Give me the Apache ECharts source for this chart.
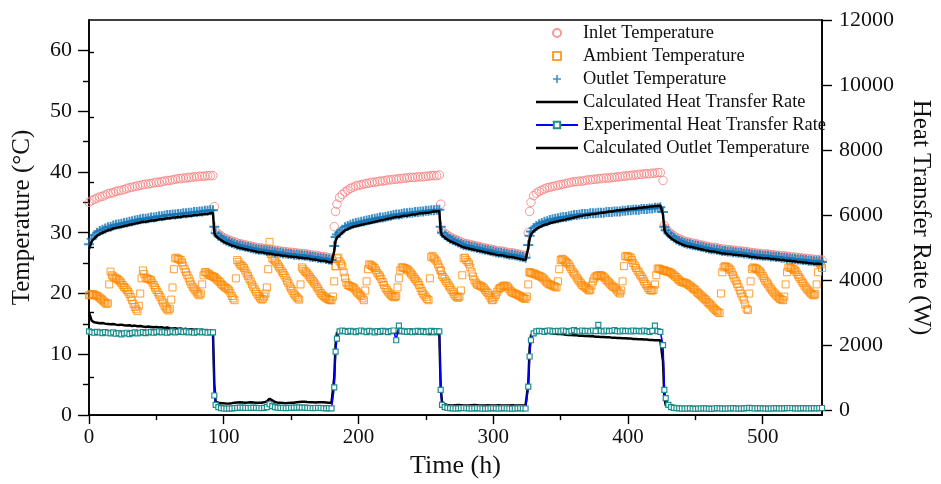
<!DOCTYPE html>
<html><head><meta charset="utf-8">
<script src="https://cdn.jsdelivr.net/npm/echarts@6/dist/echarts.min.js"></script>
<style>html,body{margin:0;padding:0;background:#fff}#c{width:941px;height:484px}</style>
</head><body><div id="c"></div>
<script>
// Time grid (h)
const hours = [
 0,2,4,6,8,10,12,14,16,18,20,22,24,26,28,30,32,34,36,38,40,42,44,46,48,50,52,54,56,58,60,62,64,66,68,70,72,74,76,78,80,82,84,86,88,90,92,
 93,
 94,96,98,100,102,104,106,108,110,112,114,116,118,120,122,124,126,128,130,132,134,136,138,140,142,144,146,148,150,152,154,156,158,160,162,164,166,168,170,172,174,176,178,180,182,
 183,
 184,186,188,190,192,194,196,198,200,202,204,206,208,210,212,214,216,218,220,222,224,226,228,230,232,234,236,238,240,242,244,246,248,250,252,254,256,258,260,
 261,
 262,264,266,268,270,272,274,276,278,280,282,284,286,288,290,292,294,296,298,300,302,304,306,308,310,312,314,316,318,320,322,324,326,
 327,
 328,330,332,334,336,338,340,342,344,346,348,350,352,354,356,358,360,362,364,366,368,370,372,374,376,378,380,382,384,386,388,390,392,394,396,398,400,402,404,406,408,410,412,414,416,418,420,422,424,426,
 427,
 428,430,432,434,436,438,440,442,444,446,448,450,452,454,456,458,460,462,464,466,468,470,472,474,476,478,480,482,484,486,488,490,492,494,496,498,500,502,504,506,508,510,512,514,516,518,520,522,524,526,528,530,532,534,536,538,540,542,544
];
// Extra (odd-hour) readings of the ambient temperature
const oddHours = [
 1,3,5,7,9,11,13,15,17,19,21,23,25,27,29,31,33,35,37,39,41,43,45,47,49,51,53,55,57,59,61,63,65,67,69,71,73,75,77,79,81,83,85,87,89,91,93,95,97,99,
 101,103,105,107,109,111,113,115,117,119,121,123,125,127,129,131,133,135,137,139,141,143,145,147,149,151,153,155,157,159,161,163,165,167,169,171,173,175,177,179,181,183,185,187,189,191,193,195,197,199,
 201,203,205,207,209,211,213,215,217,219,221,223,225,227,229,231,233,235,237,239,241,243,245,247,249,251,253,255,257,259,261,263,265,267,269,271,273,275,277,279,281,283,285,287,289,291,293,295,297,299,
 301,303,305,307,309,311,313,315,317,319,321,323,325,327,329,331,333,335,337,339,341,343,345,347,349,351,353,355,357,359,361,363,365,367,369,371,373,375,377,379,381,383,385,387,389,391,393,395,397,399,
 401,403,405,407,409,411,413,415,417,419,421,423,425,427,429,431,433,435,437,439,441,443,445,447,449,451,453,455,457,459,461,463,465,467,469,471,473,475,477,479,481,483,485,487,489,491,493,495,497,499,
 501,503,505,507,509,511,513,515,517,519,521,523,525,527,529,531,533,535,537,539,541,543
];

const inletTemp = [
 35.0,35.3,35.5,35.7,35.9,36.0,36.2,36.4,36.5,36.6, 36.8,36.9,37.0,37.1,37.3,37.4,37.5,37.6,37.7,37.8, 37.9,38.0,38.0,38.1,38.2,38.3,38.3,38.4,38.5,38.6, 38.6,38.7,38.8,38.9,38.9,39.0,39.0,39.1,39.1,39.2, 39.2,39.3,39.3,39.3,39.4,39.4,39.4,
 34.3,
 30.2,29.8,29.5,29.2,29.0,28.8,28.6,28.5,28.3,28.2, 28.1,28.0,27.9,27.8,27.7,27.6,27.5,27.5,27.4,27.3, 27.3,27.2,27.1,27.1,27.0,26.9,26.9,26.8,26.8,26.7, 26.7,26.6,26.6,26.5,26.5,26.4,26.3,26.3,26.2,26.1, 26.1,26.0,25.9,25.8,31.0,
 33.5,
 34.7,35.8,36.3,36.7,37.0,37.3,37.5,37.7,37.8,37.9, 38.0,38.1,38.2,38.3,38.3,38.4,38.5,38.5,38.6,38.7, 38.7,38.8,38.8,38.9,38.9,39.0,39.0,39.1,39.1,39.1, 39.2,39.2,39.2,39.3,39.3,39.4,39.4,39.4,39.5,
 34.7,
 30.3,29.9,29.6,29.3,29.1,28.9,28.7,28.5,28.3,28.2, 28.1,28.0,27.9,27.8,27.7,27.6,27.5,27.4,27.3,27.2, 27.1,27.0,27.0,26.9,26.8,26.7,26.7,26.6,26.5,26.4, 26.3,26.2,30.0,
 33.5,
 35.0,36.1,36.5,36.8,37.0,37.2,37.4,37.5,37.6,37.7, 37.8,37.9,38.0,38.1,38.2,38.3,38.4,38.4,38.5,38.5, 38.6,38.7,38.7,38.8,38.8,38.9,38.9,39.0,39.0,39.0, 39.1,39.1,39.2,39.2,39.3,39.3,39.4,39.4,39.5,39.5, 39.6,39.6,39.7,39.7,39.7,39.8,39.8,39.9,39.9,38.6,
 31.2,
 30.7,30.2,29.8,29.5,29.2,29.0,28.8,28.6,28.5,28.4, 28.3,28.2,28.1,28.0,27.9,27.8,27.7,27.6,27.6,27.5, 27.4,27.3,27.3,27.2,27.2,27.1,27.1,27.0,27.0,26.9, 26.9,26.8,26.7,26.7,26.6,26.6,26.5,26.5,26.5,26.4, 26.4,26.3,26.3,26.2,26.2,26.1,26.1,26.0,26.0,25.9, 25.9,25.8,25.8,25.7,25.7,25.6,25.6,25.6,25.5
];

const ambientTemp = [
 19.7,19.9,19.8,19.6,19.3,18.9,18.5,18.4,23.6,22.8, 22.5,22.2,21.7,21.1,20.6,19.9,18.9,17.8,17.1,20.0, 23.8,22.6,22.4,22.2,21.4,20.6,19.8,18.9,18.0,17.4, 17.5,21.0,25.8,25.7,25.5,24.6,23.5,22.5,21.5,20.8, 20.2,19.7,21.5,23.5,23.3,23.0,22.8,
 22.7,
 22.5,22.1,21.6,21.2,20.9,20.5,19.6,18.9,25.5,24.8, 24.5,23.8,22.9,22.0,21.1,20.3,19.6,19.0,19.5,21.0, 28.5,25.8,25.4,24.8,24.1,23.4,22.6,21.7,20.8,20.0, 19.4,19.0,24.3,23.7,23.3,22.7,22.1,21.5,20.8,20.1, 19.6,19.3,19.0,18.9,22.0,
 24.5,
 25.8,25.3,24.5,22.6,21.4,21.2,21.0,20.5,20.0,19.6, 18.9,22.0,24.8,24.5,24.2,23.4,22.8,21.9,20.9,20.3, 19.8,19.4,19.6,22.5,24.3,24.2,24.0,23.6,23.0,22.4, 21.8,20.9,20.0,19.4,18.9,26.0,25.8,25.3,24.3,
 23.8,
 23.0,22.4,21.7,21.0,20.3,19.6,19.3,20.5,25.8,25.5, 24.9,23.5,22.2,21.5,21.3,21.1,20.6,20.1,19.3,19.0, 19.8,20.7,21.0,21.3,21.2,20.7,20.2,20.0,19.8,19.6, 19.3,19.1,21.5,
 23.5,
 23.4,23.3,23.1,22.9,22.7,22.3,21.8,21.5,21.3,21.1, 22.0,25.5,25.6,25.2,24.8,24.0,23.3,22.6,22.0,21.4, 21.1,20.7,20.6,22.0,22.8,23.0,23.0,22.7,22.2,21.8, 21.3,21.0,20.5,20.0,22.0,26.1,26.1,25.9,25.0,24.2, 23.5,22.8,22.0,21.3,20.6,20.5,21.5,24.1,24.0,23.8,
 23.8,
 23.7,23.6,23.4,23.0,22.7,22.2,21.9,21.8,21.6,21.3, 20.9,20.6,20.1,19.7,19.3,18.9,18.4,18.0,17.5,17.1, 16.8,23.5,24.5,24.3,23.9,23.0,22.1,21.1,20.0,19.0, 17.5,20.0,24.0,24.2,24.0,23.6,22.9,22.1,21.5,20.8, 20.2,19.7,19.3,19.0,19.5,23.5,24.3,24.1,23.8,23.1, 22.4,21.7,21.0,20.5,20.0,19.7,21.5,25.0,24.2
];
const ambientTempOdd = [
 19.8,19.9,19.7,19.5,19.1,18.7,18.3,21.5,23.0,22.6, 22.4,22.0,21.4,20.9,20.3,19.4,18.3,17.4,18.0,22.5,
 23.2,22.5,22.3,21.8,21.0,20.2,19.4,18.5,17.7,17.2, 19.0,24.0,25.9,25.6,25.1,24.0,23.0,22.0,21.1,20.5,
 19.9,20.0,23.0,23.5,23.2,22.9,22.7,22.3,21.9,21.4, 21.0,20.7,20.1,19.2,22.5,25.2,24.6,24.2,23.3,22.4,
 21.5,20.7,19.9,19.3,19.1,20.0,24.0,26.5,25.6,25.1, 24.4,23.7,23.0,22.1,21.2,20.4,19.7,19.2,21.5,24.0,
 23.5,23.0,22.4,21.8,21.1,20.4,19.8,19.4,19.1,18.9, 19.5,24.5,25.9,24.9,23.5,21.8,21.3,21.1,20.8,20.2,
 19.8,19.2,20.5,24.0,24.7,24.4,23.8,23.1,22.4,21.4, 20.6,20.0,19.6,19.4,21.0,23.8,24.3,24.1,23.8,23.3,
 22.7,22.1,21.4,20.4,19.7,19.1,22.5,26.2,25.6,24.8, 23.8,22.7,22.0,21.3,20.6,19.9,19.4,19.5,23.0,25.9,
 25.2,24.3,22.8,21.8,21.4,21.2,20.9,20.3,19.7,18.9, 19.4,20.3,20.9,21.2,21.3,21.0,20.4,20.1,19.9,19.7,
 19.4,19.2,19.5,23.5,23.3,23.2,23.0,22.8,22.5,22.0, 21.6,21.4,21.2,21.0,24.0,25.7,25.4,25.0,24.4,23.6,
 23.0,22.3,21.7,21.2,20.9,20.5,21.3,22.5,22.9,23.0, 22.9,22.5,22.0,21.5,21.1,20.8,20.2,20.5,24.5,26.2,
 26.0,25.5,24.6,23.8,23.1,22.4,21.6,20.9,20.5,20.6, 23.0,24.1,23.9,23.8,23.6,23.5,23.2,22.8,22.4,22.0,
 21.8,21.7,21.4,21.1,20.7,20.3,19.9,19.5,19.1,18.6, 18.2,17.7,17.3,16.9,20.0,24.3,24.4,24.1,23.5,22.5,
 21.6,20.5,19.5,18.2,17.3,22.0,24.3,24.1,23.8,23.3, 22.5,21.8,21.1,20.5,20.0,19.5,19.1,18.9,21.5,24.3,
 24.2,24.0,23.5,22.7,22.0,21.3,20.7,20.2,19.8,19.9, 23.5,24.8
];

const outletTemp = [
 28.1,29.0,29.6,30.0,30.3,30.5,30.7,30.9,31.0,31.2, 31.3,31.4,31.5,31.6,31.7,31.8,31.9,32.0,32.1,32.2, 32.3,32.3,32.4,32.5,32.5,32.6,32.7,32.7,32.8,32.9, 32.9,33.0,33.0,33.1,33.1,33.2,33.2,33.3,33.3,33.4, 33.4,33.5,33.5,33.6,33.6,33.7,33.7,
 31.0,
 29.9,29.5,29.2,28.9,28.7,28.5,28.3,28.2,28.0,27.9, 27.8,27.7,27.6,27.5,27.4,27.3,27.2,27.2,27.1,27.0, 27.0,26.9,26.8,26.8,26.7,26.6,26.6,26.5,26.5,26.4, 26.4,26.3,26.3,26.2,26.2,26.1,26.0,26.0,25.9,25.8, 25.8,25.7,25.6,25.5,27.8,
 29.3,
 29.7,30.1,30.5,30.9,31.1,31.3,31.5,31.6,31.7,31.8, 31.9,32.0,32.1,32.2,32.3,32.4,32.5,32.5,32.6,32.7, 32.8,32.9,33.0,33.0,33.1,33.2,33.2,33.3,33.3,33.4, 33.4,33.5,33.5,33.6,33.6,33.7,33.7,33.8,33.8,
 31.0,
 30.0,29.6,29.3,29.0,28.8,28.6,28.4,28.2,28.0,27.9, 27.8,27.7,27.6,27.5,27.4,27.3,27.2,27.1,27.0,26.9, 26.8,26.7,26.7,26.6,26.5,26.4,26.4,26.3,26.2,26.1, 26.0,25.9,28.0,
 29.5,
 30.2,30.8,31.1,31.4,31.6,31.8,31.9,32.1,32.2,32.3, 32.4,32.5,32.6,32.6,32.7,32.8,32.9,32.9,33.0,33.1, 33.1,33.1,33.2,33.2,33.2,33.3,33.3,33.3,33.4,33.4, 33.4,33.5,33.5,33.5,33.6,33.6,33.7,33.7,33.8,33.8, 33.8,33.9,33.9,33.9,34.0,34.0,34.1,34.1,34.2,33.4,
 31.0,
 30.4,29.9,29.5,29.2,28.9,28.7,28.5,28.3,28.2,28.1, 28.0,27.9,27.8,27.7,27.6,27.5,27.4,27.3,27.3,27.2, 27.1,27.0,27.0,26.9,26.9,26.8,26.8,26.7,26.7,26.6, 26.6,26.5,26.4,26.4,26.3,26.3,26.2,26.2,26.2,26.1, 26.1,26.0,26.0,25.9,25.9,25.8,25.8,25.7,25.7,25.6, 25.6,25.5,25.5,25.4,25.4,25.3,25.3,25.3,25.2
];

const calcHeatRate = [
 3000,2750,2700,2690,2670,2680,2660,2650,2640,2650, 2630,2620,2630,2610,2600,2610,2590,2600,2580,2590, 2570,2560,2570,2560,2550,2560,2540,2550,2530,2540, 2520,2510,2520,2500,2510,2490,2500,2480,2490,2470, 2480,2460,2470,2450,2460,2440,2430,
 800,
 260,230,215,210,200,205,215,230,235,240, 235,230,235,240,235,230,225,230,240,270, 350,300,250,230,225,220,215,220,225,230, 240,250,255,260,250,245,240,235,240,245, 240,235,230,230,1000,
 2000,
 2380,2400,2420,2410,2400,2410,2420,2400,2410,2420, 2400,2410,2390,2400,2410,2400,2390,2400,2390,2380, 2390,2380,2370,2380,2370,2380,2360,2370,2360,2370, 2350,2360,2350,2360,2340,2350,2340,2350,2340,
 700,
 250,180,160,150,145,150,155,150,145,140, 145,150,155,150,145,140,145,150,145,140, 145,150,145,140,145,140,150,145,140,145, 140,145,800,
 1900,
 2300,2400,2410,2400,2400,2390,2380,2370,2360,2350, 2340,2340,2330,2320,2310,2310,2300,2300,2290,2290, 2280,2280,2270,2270,2260,2260,2250,2250,2240,2240, 2230,2230,2220,2220,2210,2210,2200,2200,2190,2190, 2180,2180,2170,2170,2160,2160,2150,2150,2150,1500,
 400,
 150,100,85,80,75,70,70,75,70,65, 70,75,70,65,70,75,80,75,70,70, 65,70,75,70,65,70,75,70,65,70, 75,80,75,70,65,70,75,70,70,65, 70,75,70,65,70,75,80,75,70,65, 70,75,70,65,70,75,70,65,70
];

const expHeatRate = [
 2420,2400,2380,2410,2390,2370,2400,2380,2360,2390, 2350,2370,2330,2360,2380,2340,2370,2390,2360,2380, 2400,2370,2390,2410,2380,2400,2420,2390,2410,2380, 2400,2420,2390,2410,2430,2400,2420,2390,2410,2380, 2400,2420,2390,2410,2380,2400,2390,
 450,
 160,90,60,50,45,50,55,60,70,80, 75,70,65,70,75,70,65,60,70,90, 180,120,90,80,70,65,60,65,70,75, 80,85,80,75,70,65,60,65,70,65, 60,55,60,55,700,
 1800,
 2200,2420,2450,2430,2410,2440,2420,2400,2430,2450, 2420,2400,2440,2420,2390,2430,2410,2440,2420,2400, 2430,2450,2150,2600,2440,2420,2410,2430,2400,2420, 2440,2410,2430,2400,2420,2440,2410,2430,2420,
 620,
 160,90,70,60,55,50,55,60,65,60, 55,50,55,60,55,50,45,50,55,60, 55,50,55,60,55,50,45,50,55,60, 55,50,720,
 1650,
 2150,2360,2420,2440,2430,2410,2440,2450,2420,2430, 2440,2420,2450,2430,2410,2440,2460,2430,2420,2450, 2430,2440,2420,2450,2430,2620,2440,2420,2450,2430, 2440,2460,2430,2420,2450,2430,2440,2420,2450,2430, 2440,2420,2450,2430,2410,2440,2600,2430,2410,2000,
 620,
 370,160,90,70,60,55,50,45,50,55, 45,40,45,50,55,50,45,40,50,60, 55,50,45,50,55,60,50,45,50,55, 60,70,60,50,55,60,55,50,45,50, 55,60,55,50,55,60,65,60,55,50, 55,60,55,50,55,60,55,60,65
];

const calcOutletTemp = [
 27.3,28.6,29.1,29.5,29.8,30.0,30.2,30.4,30.5,30.7, 30.8,30.9,31.0,31.1,31.2,31.3,31.4,31.5,31.6,31.7, 31.8,31.8,31.9,32.0,32.0,32.1,32.2,32.2,32.3,32.4, 32.4,32.5,32.5,32.6,32.6,32.7,32.7,32.8,32.8,32.9, 32.9,33.0,33.0,33.1,33.1,33.2,33.3,
 30.0,
 29.5,29.1,28.8,28.5,28.3,28.1,27.9,27.8,27.6,27.5, 27.4,27.3,27.2,27.1,27.0,26.9,26.8,26.8,26.7,26.6, 26.6,26.5,26.4,26.4,26.3,26.2,26.2,26.1,26.1,26.0, 26.0,25.9,25.9,25.8,25.8,25.7,25.6,25.6,25.5,25.4, 25.4,25.3,25.2,25.1,27.0,
 28.6,
 29.2,29.6,30.0,30.4,30.6,30.8,31.0,31.1,31.2,31.3, 31.4,31.5,31.6,31.7,31.8,31.9,32.0,32.1,32.2,32.3, 32.4,32.5,32.6,32.6,32.7,32.8,32.8,32.9,33.0,33.0, 33.1,33.2,33.2,33.3,33.3,33.4,33.5,33.5,33.6,
 30.2,
 29.6,29.2,28.9,28.6,28.4,28.2,28.0,27.8,27.6,27.5, 27.4,27.3,27.2,27.1,27.0,26.9,26.8,26.7,26.6,26.5, 26.4,26.3,26.3,26.2,26.1,26.0,26.0,25.9,25.8,25.7, 25.6,25.5,27.5,
 29.0,
 29.7,30.3,30.6,30.9,31.1,31.3,31.4,31.6,31.7,31.8, 31.9,32.0,32.1,32.2,32.3,32.4,32.5,32.6,32.7,32.8, 32.9,32.9,33.0,33.1,33.1,33.2,33.3,33.3,33.4,33.5, 33.5,33.6,33.7,33.7,33.8,33.8,33.9,33.9,34.0,34.0, 34.1,34.1,34.2,34.2,34.3,34.3,34.4,34.4,34.5,33.0,
 30.5,
 30.0,29.5,29.1,28.8,28.5,28.3,28.1,27.9,27.8,27.7, 27.6,27.5,27.4,27.3,27.2,27.1,27.0,26.9,26.9,26.8, 26.7,26.6,26.6,26.5,26.5,26.4,26.4,26.3,26.3,26.2, 26.2,26.1,26.0,26.0,25.9,25.9,25.8,25.8,25.8,25.7, 25.7,25.6,25.6,25.5,25.5,25.4,25.4,25.3,25.3,25.2, 25.2,25.1,25.1,25.0,25.0,24.9,24.9,24.9,24.8
];

// Axis tick labels
const xTicks = [0,100,200,300,400,500];
const xMinorTicks = [50,150,250,350,450];
const tempTicks = [0,10,20,30,40,50,60];
const tempMinorTicks = [5,15,25,35,45,55];
const heatTicks = [0,2000,4000,6000,8000,10000,12000];
const heatMinorTicks = [1000,3000,5000,7000,9000,11000];

const names = ['Inlet Temperature','Ambient Temperature','Outlet Temperature','Calculated Heat Transfer Rate','Experimental Heat Transfer Rate','Calculated Outlet Temperature'];

const allSeries = [inletTemp, ambientTemp, outletTemp, calcHeatRate, expHeatRate, calcOutletTemp];
allSeries.forEach((a,i)=>{ if (a.length !== hours.length) throw new Error(names[i]+' length '+a.length+' vs '+hours.length); });
if (ambientTempOdd.length !== oddHours.length) throw new Error('odd ambient length ' + ambientTempOdd.length + ' vs ' + oddHours.length);
const pairs = a => hours.map((h,i)=>[h,a[i]]);
const ambientPairs = pairs(ambientTemp).concat(oddHours.map((h,i)=>[h, ambientTempOdd[i]]));

const FONT = 'Liberation Serif';
const INK = '#111';
const plus = 'path://M4,0h2v4h4v2h-4v4h-2v-4h-4v-2h4z';

const chart = echarts.init(document.getElementById('c'), null, {renderer:'canvas'});
chart.setOption({
  animation: false,
  backgroundColor: '#fff',
  grid: {left: 89, right: 109, top: 20, bottom: 67, show: true, borderColor: '#000', borderWidth: 1.6, backgroundColor: 'transparent'},
  legend: {
    orient: 'vertical', left: 530, top: 19, itemWidth: 42, itemHeight: 8, itemGap: 5,
    textStyle: {fontFamily: FONT, fontSize: 18.4, color: INK},
    data: [
      {name: names[0]},
      {name: names[1], icon: 'path://M0,0H10V10H0Z'},
      {name: names[2]},
      {name: names[3], icon: 'path://M0,0H40V2.4H0Z'},
      {name: names[4]},
      {name: names[5], icon: 'path://M0,0H40V2.4H0Z'}
    ]
  },
  xAxis: [
    {type: 'value', min: 0, max: 544, position: 'bottom',
     name: 'Time (h)', nameLocation: 'middle', nameGap: 36,
     nameTextStyle: {fontFamily: FONT, fontSize: 26, color: INK},
     axisLine: {onZero: false, lineStyle: {color: '#000', width: 1.6}},
     axisTick: {customValues: xTicks, length: 9, lineStyle: {color: '#000', width: 1.4}},
     axisLabel: {customValues: xTicks, margin: 12, fontFamily: FONT, fontSize: 21, color: INK},
     splitLine: {show: false}},
    {type: 'value', min: 0, max: 544, position: 'bottom',
     axisLine: {show: false},
     axisTick: {customValues: xMinorTicks, length: 5, lineStyle: {color: '#000', width: 1.4}},
     axisLabel: {show: false}, splitLine: {show: false}}
  ],
  yAxis: [
    {type: 'value', min: 0, max: 65, position: 'left',
     name: 'Temperature (°C)', nameLocation: 'middle', nameGap: 54, nameRotate: 90,
     nameTextStyle: {fontFamily: FONT, fontSize: 25, color: INK},
     axisLine: {show: true, onZero: false, lineStyle: {color: '#000', width: 1.6}},
     axisTick: {customValues: tempTicks, length: 11, lineStyle: {color: '#000', width: 1.4}},
     axisLabel: {customValues: tempTicks, margin: 17, fontFamily: FONT, fontSize: 22, color: INK},
     splitLine: {show: false}},
    {type: 'value', min: -153, max: 12000, position: 'right',
     name: 'Heat Transfer Rate (W)', nameLocation: 'middle', nameGap: 86, nameRotate: -90,
     nameTextStyle: {fontFamily: FONT, fontSize: 25, color: INK},
     axisLine: {show: true, onZero: false, lineStyle: {color: '#000', width: 1.6}},
     axisTick: {customValues: heatTicks, length: 10, lineStyle: {color: '#000', width: 1.4}},
     axisLabel: {customValues: heatTicks, margin: 17, fontFamily: FONT, fontSize: 22, color: INK,
                 formatter: v => String(v)},
     splitLine: {show: false}},
    {type: 'value', min: 0, max: 65, position: 'left',
     axisLine: {show: false},
     axisTick: {customValues: tempMinorTicks, length: 6, lineStyle: {color: '#000', width: 1.4}},
     axisLabel: {show: false}, splitLine: {show: false}},
    {type: 'value', min: -153, max: 12000, position: 'right',
     axisLine: {show: false},
     axisTick: {customValues: heatMinorTicks, length: 5, lineStyle: {color: '#000', width: 1.4}},
     axisLabel: {show: false}, splitLine: {show: false}}
  ],
  series: [
    {name: names[0], type: 'scatter', yAxisIndex: 0, data: pairs(inletTemp),
     symbol: 'circle', symbolSize: 8.5,
     itemStyle: {color: 'rgba(255,255,255,0)', borderColor: '#f67e7e', borderWidth: 1}},
    {name: names[1], type: 'scatter', yAxisIndex: 0, data: ambientPairs,
     symbol: 'rect', symbolSize: 7,
     itemStyle: {color: 'rgba(255,255,255,0)', borderColor: '#ff8800', borderWidth: 1}},
    {name: names[2], type: 'scatter', yAxisIndex: 0, data: pairs(outletTemp),
     symbol: plus, symbolSize: 10,
     itemStyle: {color: '#0f74b8'}},
    {name: names[3], type: 'line', yAxisIndex: 1, data: pairs(calcHeatRate),
     symbol: 'none', itemStyle: {color: '#000'}, lineStyle: {color: '#000', width: 2.5}},
    {name: names[4], type: 'line', yAxisIndex: 1, data: pairs(expHeatRate),
     symbol: 'rect', symbolSize: 5, showSymbol: true,
     itemStyle: {color: '#ffffff', borderColor: '#1f8d8d', borderWidth: 1.2},
     lineStyle: {color: '#0000ff', width: 1.6}},
    {name: names[5], type: 'line', yAxisIndex: 0, data: pairs(calcOutletTemp),
     symbol: 'none', itemStyle: {color: '#000'}, lineStyle: {color: '#000', width: 2.5}}
  ]
});
</script>
</body></html>
